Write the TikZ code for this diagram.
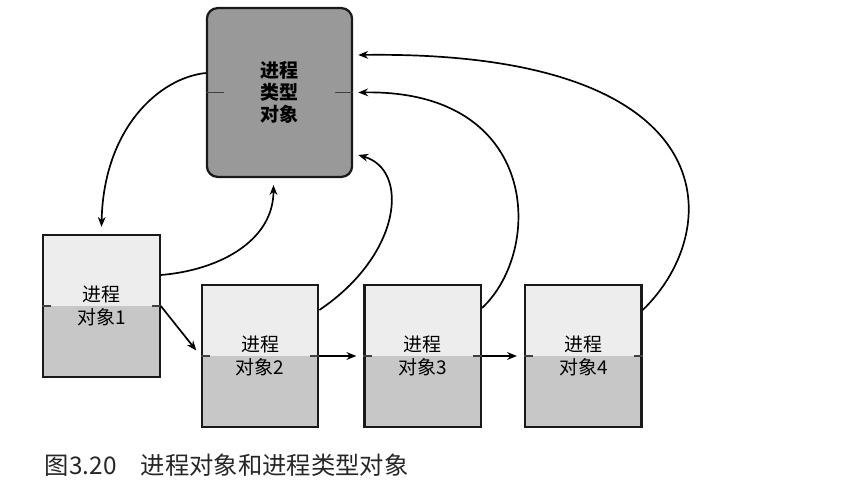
\documentclass[tikz,border=0pt]{standalone}
\usepackage{fontspec}
\newfontfamily\cjk{Noto Sans CJK SC}
\usetikzlibrary{positioning}
\usetikzlibrary{calc, arrows.meta}

\begin{document}
\begin{tikzpicture}[x=0.025cm,y=-0.025cm,
  procbox/.style={draw=black!90,line width=1.6pt,fill=black!7,minimum width=2.91cm,minimum height=3.55cm,inner sep=0pt,align=center,
    font=\cjk\fontsize{13.5}{16.5}\selectfont,
    path picture={\fill[black!22] (path picture bounding box.west) rectangle (path picture bounding box.south east);}},
  typbox/.style={draw=black!90,line width=1.6pt,fill=black!40,rounded corners=0.27cm,minimum width=3.63cm,minimum height=4.22cm,inner sep=0pt,align=center,
    font=\cjk\bfseries\fontsize{13.5}{15.8}\selectfont},
  tick/.style={black!75,line width=0.9pt},
  arr/.style={-{Stealth[length=7pt,width=5.5pt]},line width=1.2pt}]
\useasboundingbox (0,0) rectangle (850,493);

\node[typbox] (typ) at (279.5,92.5) {进程\\类型\\对象};
\node[procbox] (p1) at (101.5,306) {进程\\对象1};
\node[procbox] (p2) at (260,356) {进程\\对象2};
\node[procbox,right=1.1cm of p2] (p3) {进程\\对象3};
\node[procbox,right=1.05cm of p3] (p4) {进程\\对象4};

\draw[tick] (typ.west) -- ++(18,0);
\draw[tick] (typ.east) -- ++(-18,0);
\foreach \b in {p1,p2,p3,p4}{
  \draw[tick] (\b.west) -- ++(9,0);
  \draw[tick] (\b.east) -- ++(-9,0);
}

\draw[arr] ($(typ.west)+(0,-19.5)$) .. controls +(-47,5) and +(2,-98) .. ($(p1.north)+(0,-7)$);
\draw[arr] ($(p1.east)+(0,-31)$) .. controls +(60,-5) and +(0,55) .. ($(typ.south)+(-6,7)$);
\foreach \a/\b in {p1/p2,p2/p3,p3/p4}
  \draw[arr,shorten >=5pt] (\a.east) -- (\b.west);
\draw[arr] ($(p2.east)+(0,-46)$) .. controls +(82,-55) and +(52,15) .. ($(typ.east)+(5,62.5)$);
\draw[arr] ($(p3.east)+(0,-48)$) .. controls +(62,-58) and +(182,-3) .. ($(typ.east)+(5,0)$);
\draw[arr] ($(p4.east)+(0,-46)$) .. controls +(83,-80) and +(372,-5) .. ($(typ.east)+(5,-37.5)$);

\node[anchor=west,text=black!85,font=\cjk\fontsize{17.3}{20}\selectfont] (cap) at (40,465) {图3.20\quad 进程对象和进程类型对象};

\end{tikzpicture}
\end{document}
